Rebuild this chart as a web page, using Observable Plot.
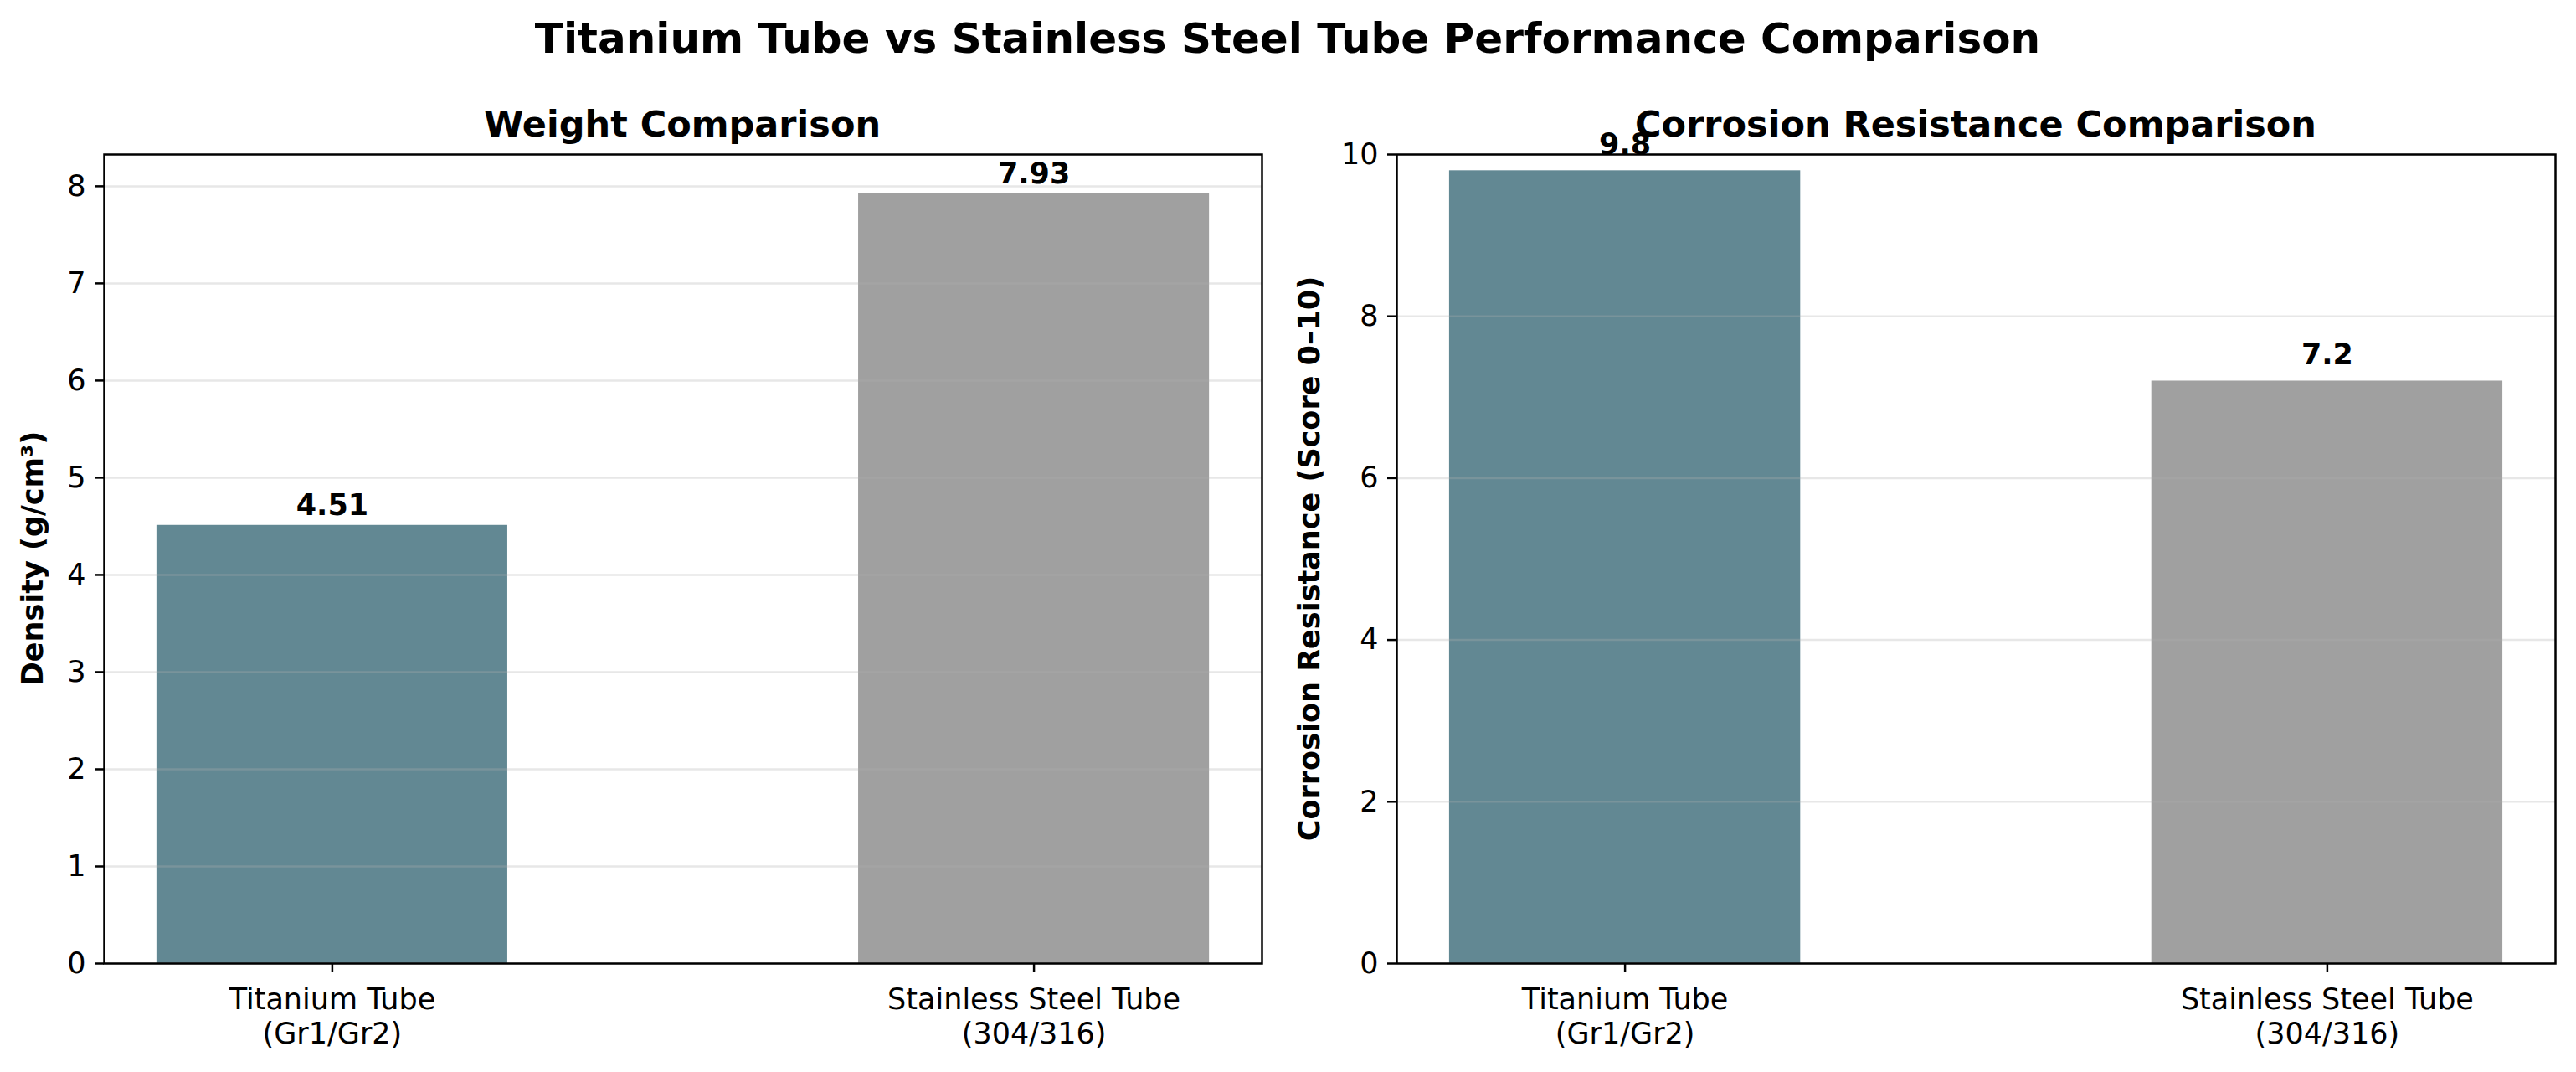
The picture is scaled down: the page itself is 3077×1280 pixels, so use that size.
<!DOCTYPE html>
<html><head><meta charset="utf-8">
<script src="https://cdn.jsdelivr.net/npm/d3@7"></script>
<script src="https://cdn.jsdelivr.net/npm/@observablehq/plot@0.6"></script>
<style>
body{margin:0;background:#fff;font-family:"DejaVu Sans",sans-serif;}
#root{position:relative;width:3077px;height:1280px;overflow:hidden;background:#fff;}
.t{position:absolute;white-space:nowrap;font-weight:bold;color:#000;transform:translate(-50%,-50%);line-height:1;}
.yl{position:absolute;white-space:nowrap;font-weight:bold;color:#000;line-height:1;transform:translate(-50%,-50%) rotate(-90deg);font-size:35px;}
.chart{position:absolute;top:0;}
</style></head><body><div id="root"></div>
<script>
const categories = ["Titanium Tube\n(Gr1/Gr2)", "Stainless Steel Tube\n(304/316)"];
const density = [4.51, 7.93];
const corrosion = [9.8, 7.2];
const densityLabels = ["4.51", "7.93"];
const corrosionLabels = ["9.8", "7.2"];
const densityTicks = [0, 1, 2, 3, 4, 5, 6, 7, 8];
const corrosionTicks = [0, 2, 4, 6, 8, 10];
const barColors = ["#628893", "#a0a0a0"];
const mainTitle = "Titanium Tube vs Stainless Steel Tube Performance Comparison";
const subTitles = ["Weight Comparison", "Corrosion Resistance Comparison"];
const yLabels = ["Density (g/cm³)", "Corrosion Resistance (Score 0–10)"];

const root = document.getElementById("root");
const H = 1280, MT = 184, MB = 130;

function panel(values, labels, ticks, yMax, gap, width, ml, mr) {
  const data = categories.map((c, i) => ({cat: c, v: values[i], label: labels[i]}));
  return Plot.plot({
    width, height: H, marginLeft: ml, marginRight: mr, marginTop: MT, marginBottom: MB,
    style: {fontFamily: "DejaVu Sans", fontSize: "35px", color: "#000", background: "transparent", overflow: "visible"},
    x: {type: "band", domain: categories, paddingInner: 0.5, paddingOuter: 0.075, round: false},
    y: {domain: [0, yMax]},
    color: {domain: categories, range: barColors},
    marks: [
      Plot.barY(data, {x: "cat", y: "v", fill: "cat"}),
      Plot.ruleY(ticks, {stroke: "#b0b0b0", strokeOpacity: 0.3, strokeWidth: 2.5}),
      Plot.text(data, {x: "cat", y: "v", text: "label", dy: -gap, lineAnchor: "bottom", fontWeight: "bold", fontSize: 35, fill: "#000"}),
      Plot.axisX({tickSize: 11, tickPadding: 14, label: null, lineHeight: 1.17, stroke: "#000", strokeWidth: 2.5, fill: "#000"}),
      Plot.axisY(ticks, {tickSize: 11, tickPadding: 11, label: null, tickFormat: d => String(d), stroke: "#000", strokeWidth: 2.5, fill: "#000"}),
      Plot.frame({stroke: "#000", strokeWidth: 2.5})
    ]
  });
}

const left = panel(density, densityLabels, densityTicks, 7.93 * 1.05, 12, 1540, 124, 33);
left.classList.add("chart"); left.style.left = "0px";
root.appendChild(left);
const right = panel(corrosion, corrosionLabels, corrosionTicks, 10, 20, 1537, 128, 25);
right.classList.add("chart"); right.style.left = "1540px";
root.appendChild(right);

function addText(cls, txt, x, y, size) {
  const d = document.createElement("div");
  d.className = cls; d.textContent = txt;
  d.style.left = x + "px"; d.style.top = y + "px";
  if (size) d.style.fontSize = size + "px";
  root.appendChild(d);
}
addText("t", mainTitle, 1538, 46, 50);
addText("t", subTitles[0], 815, 148, 43);
addText("t", subTitles[1], 2360, 148, 43);
addText("yl", yLabels[0], 39, 667);
addText("yl", yLabels[1], 1564, 667);
</script></body></html>
